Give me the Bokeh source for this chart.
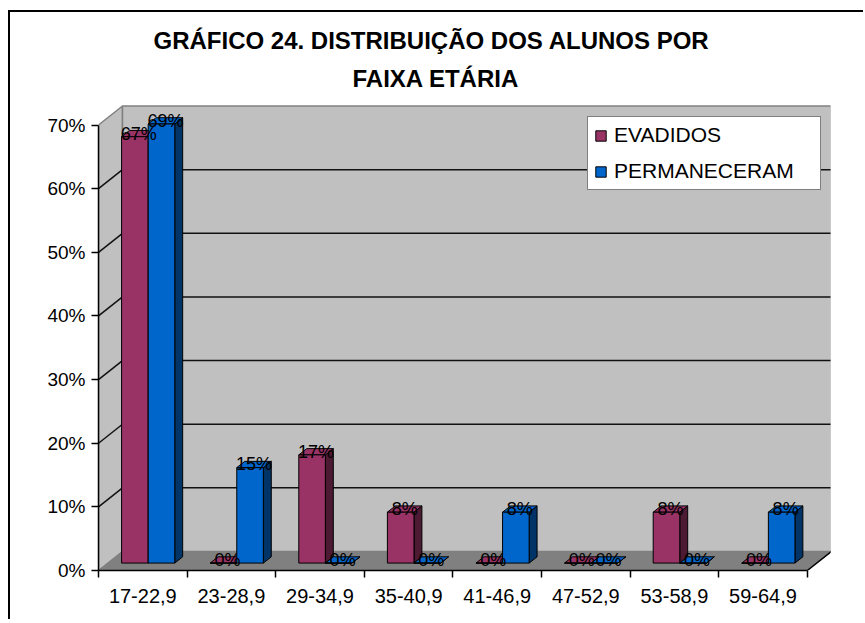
from bokeh.plotting import figure
from bokeh.models import ColumnDataSource, FixedTicker, Title, Legend, LegendItem, Range1d
from bokeh.core.properties import value
from bokeh.embed import file_html
from bokeh.resources import INLINE

# ---------------- data ----------------
categories = ["17-22,9", "23-28,9", "29-34,9", "35-40,9",
              "41-46,9", "47-52,9", "53-58,9", "59-64,9"]
evadidos = [67, 0, 17, 8, 0, 0, 8, 0]
permaneceram = [69, 15, 0, 0, 8, 0, 0, 8]
series_names = ["EVADIDOS", "PERMANECERAM"]
y_ticks = [0, 10, 20, 30, 40, 50, 60, 70]
y_tick_labels = ["0%", "10%", "20%", "30%", "40%", "50%", "60%", "70%"]
title_line1 = "GRÁFICO 24. DISTRIBUIÇÃO DOS ALUNOS POR"
title_line2 = "FAIXA ETÁRIA"

# ---------------- styling / geometry ----------------
front_colors = ["#993366", "#0066CC"]
side_colors = ["#4D1A33", "#003366"]
FONT = "Liberation Sans"
PX_X = 88.6          # px per category
PX_Y = 6.364         # px per percent
DX = 24 / PX_X       # depth offset (x) of back wall, data units
DY = 19 / PX_Y       # depth offset (y) of back wall, data units
BAR_W = 0.30
BAR_START = 0.155
F0, F1 = 0.39, 0.72  # depth fractions of bar front / back

W, H = 855, 609
ML, MT = 88, 91
FW, FH = 732, 467
MR = W - ML - FW
MB = H - MT - FH
x_end = FW / PX_X
y_end = FH / PX_Y
n = len(categories)
ymax = y_ticks[-1]

p = figure(width=W, height=H, output_backend="svg", toolbar_location=None,
           x_range=Range1d(0, x_end), y_range=Range1d(0, y_end),
           min_border_left=ML, min_border_right=MR, min_border_top=MT,
           min_border_bottom=MB, title=None)
p.margin = (10, 0, 0, 8)
p.outline_line_color = None
p.xgrid.visible = False
p.ygrid.visible = False
p.background_fill_color = "white"
p.border_fill_color = "white"
p.styles = {"border-left": "2px solid black", "border-top": "2px solid black"}

# ---------------- walls & floor ----------------
wall_gray = "#C0C0C0"
p.patch([0, 0, DX, DX], [0, ymax, ymax + DY, DY], fill_color=wall_gray,
        line_color="#808080", line_width=1.5)
p.quad(left=[DX], right=[n + DX], bottom=[DY], top=[ymax + DY],
       fill_color=wall_gray, line_color="#808080", line_width=1.5)
p.patch([0, n, n + DX, DX], [0, 0, DY, DY], fill_color="#808080",
        line_color="#808080", line_width=1)
p.line([n, n + DX], [0, DY], line_color="black", line_width=1.5)

grid_vals = [v for v in y_ticks if 0 < v < ymax]
p.multi_line(xs=[[DX, n + DX] for _ in grid_vals],
             ys=[[v + DY, v + DY] for v in grid_vals],
             line_color="#111111", line_width=1.5)
p.multi_line(xs=[[0, DX] for _ in grid_vals],
             ys=[[v, v + DY] for v in grid_vals],
             line_color="#111111", line_width=1.5)

# ---------------- bars ----------------
ddx = (F1 - F0) * DX
ddy = (F1 - F0) * DY
front_renderers = []
lab_x, lab_y, lab_t = [], [], []
for s, vals in enumerate([evadidos, permaneceram]):
    left = [i + BAR_START + s * BAR_W + F0 * DX for i in range(n)]
    right = [l + BAR_W for l in left]
    bottom = [F0 * DY] * n
    top = [v + F0 * DY for v in vals]
    side_xs = [[r, r + ddx, r + ddx, r] for r in right]
    side_ys = [[b, b + ddy, t + ddy, t] for b, t in zip(bottom, top)]
    top_xs = [[l, r, r + ddx, l + ddx] for l, r in zip(left, right)]
    top_ys = [[t, t, t + ddy, t + ddy] for t in top]
    p.patches(xs=side_xs, ys=side_ys, fill_color=side_colors[s],
              line_color="black", line_width=1)
    p.patches(xs=top_xs, ys=top_ys, fill_color=front_colors[s],
              line_color="black", line_width=1)
    fr = p.quad(left=left, right=right, bottom=bottom, top=top,
                fill_color=front_colors[s], line_color="black", line_width=1)
    front_renderers.append(fr)
    for l, r, t, v in zip(left, right, top, vals):
        lab_x.append((l + r) / 2 + ddx / 2)
        lab_y.append(t + ddy / 2)
        lab_t.append(f"{v}%")

p.text(x=lab_x, y=lab_y, text=lab_t, text_font=value(FONT),
       text_font_size="18px", text_align="center", text_baseline="middle",
       text_color="black")

# ---------------- axes ----------------
xa = p.xaxis[0]
centers = [i + 0.5 for i in range(n)]
xa.ticker = FixedTicker(ticks=centers, minor_ticks=list(range(n + 1)))
xa.major_label_overrides = {c: cat for c, cat in zip(centers, categories)}
xa.major_tick_out = 0
xa.major_tick_in = 0
xa.minor_tick_out = 7
xa.minor_tick_in = 0
xa.minor_tick_line_color = "black"
xa.minor_tick_line_width = 1.5
xa.bounds = (0, n)
xa.axis_line_color = "black"
xa.axis_line_width = 1.5
xa.major_label_text_font = FONT
xa.major_label_text_font_size = "20px"
xa.major_label_text_color = "black"
xa.major_label_standoff = 11

ya = p.yaxis[0]
ya.ticker = FixedTicker(ticks=y_ticks)
ya.major_label_overrides = {v: t for v, t in zip(y_ticks, y_tick_labels)}
ya.major_tick_out = 7
ya.major_tick_in = 0
ya.minor_tick_out = 0
ya.minor_tick_in = 0
ya.major_tick_line_color = "black"
ya.major_tick_line_width = 1.5
ya.bounds = (0, ymax)
ya.axis_line_color = "black"
ya.axis_line_width = 1.5
ya.major_label_text_font = FONT
ya.major_label_text_font_size = "19px"
ya.major_label_text_color = "black"
ya.major_label_standoff = 6

# ---------------- titles ----------------
t2 = Title(text=title_line2, align="left", text_font=FONT,
           text_font_size="24px", text_font_style="bold", standoff=23,
           offset=254, text_color="black")
t1 = Title(text=title_line1, align="left", text_font=FONT,
           text_font_size="24px", text_font_style="bold", standoff=-4,
           offset=55, text_color="black")
p.add_layout(t2, "above")
p.add_layout(t1, "above")

# ---------------- legend ----------------
legend = Legend(items=[LegendItem(label=nm, renderers=[r])
                       for nm, r in zip(series_names, front_renderers)],
                location=(489, 380), padding=6, spacing=12,
                glyph_width=13, glyph_height=13, label_height=20,
                label_standoff=7, label_width=200,
                label_text_font=FONT, label_text_font_size="21px",
                label_text_color="black",
                border_line_color="black", border_line_width=1.5,
                background_fill_color="white", background_fill_alpha=1.0,
                margin=0)
p.add_layout(legend)

open("out.html", "w").write(file_html(p, INLINE))
